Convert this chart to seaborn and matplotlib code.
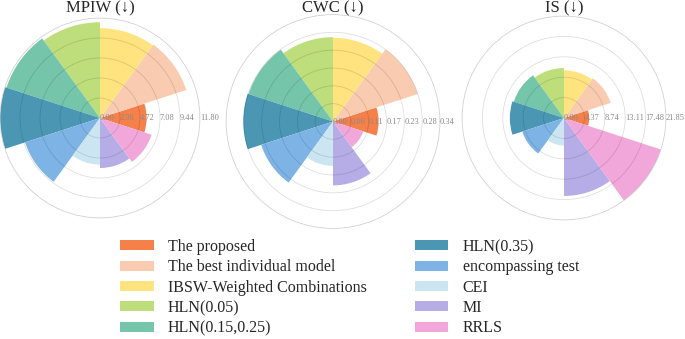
import numpy as np
import pandas as pd
import seaborn as sns
import matplotlib.pyplot as plt
from matplotlib.patches import Patch

# methods in the order they go round the rose (anticlockwise from east)
methods = ['The proposed', 'The best individual model', 'IBSW-Weighted Combinations',
           'HLN(0.05)', 'HLN(0.15,0.25)', 'HLN(0.35)', 'encompassing test', 'CEI', 'MI', 'RRLS']
colors = ['#F5804A', '#F9CBB0', '#FFE37F', '#BEDD7B', '#74C5AA',
          '#4B97B3', '#7EB3E5', '#CCE6F1', '#B6ADE7', '#F1A7D9']

mpiw = [5.5, 10.7, 10.6, 11.3, 11.6, 11.8, 9.3, 5.5, 5.9, 6.4]
cwc = [0.145, 0.283, 0.266, 0.268, 0.282, 0.285, 0.240, 0.141, 0.203, 0.101]
is_score = [5.4, 10.5, 10.2, 10.7, 11.3, 11.6, 9.4, 5.9, 16.7, 21.85]

# title, values, outer tick, number of ring intervals
panels = [('MPIW (↓)', mpiw, 11.80, 5),
          ('CWC (↓)', cwc, 0.34, 6),
          ('IS (↓)', is_score, 21.85, 5)]

sns.set_theme(style='white')
serif = ['Liberation Serif', 'DejaVu Serif']
plt.rcParams['font.family'] = serif

W, H = 685, 339
fig = plt.figure(figsize=(W / 100, H / 100), dpi=100)

# centre x, centre y (pixels from top), radius in pixels
boxes = [(100, 118, 100), (333, 121.5, 107), (564, 118, 102)]

theta = np.arange(len(methods)) * 2 * np.pi / len(methods)

for (title, vals, rmax, n), (cx, cy, r) in zip(panels, boxes):
    ax = fig.add_axes([(cx - r) / W, (H - cy - r) / H, 2 * r / W, 2 * r / H], projection='polar')
    df = pd.DataFrame({'theta': theta, 'value': vals, 'method': methods})
    sns.barplot(data=df, x='theta', y='value', hue='method', hue_order=methods,
                palette=colors, native_scale=True, width=1.0, dodge=False,
                saturation=1, errorbar=None, legend=False, linewidth=0, ax=ax)
    ax.set_theta_zero_location('E')
    ax.set_xlim(0, 2 * np.pi)
    ax.set_ylim(0, rmax)
    ax.set_xlabel('')
    ax.set_ylabel('')
    ax.set_xticks([])
    ticks = np.linspace(0, rmax, n + 1)
    ax.set_yticks(ticks)
    ax.set_yticklabels([])
    ax.set_axisbelow(False)
    ax.yaxis.grid(True, color='black', alpha=0.13, linewidth=0.6)
    ax.spines['polar'].set_color('#e2e2e2')
    ax.spines['polar'].set_linewidth(0.6)
    for t in ticks:
        ax.text(0, t, f'{t:.2f}', ha='left', va='center', fontsize=6.0,
                color='#8a8a8a', family=serif, zorder=5)
    fig.text(cx / W, 1 - 8 / H, title, ha='center', va='center', fontsize=12, family=serif)

handles = [Patch(facecolor=c, edgecolor='none') for c in colors]
fig.legend(handles, methods, ncol=2, loc='upper left', bbox_to_anchor=(120 / W, 1 - 239 / H),
           frameon=False, fontsize=11.5, borderpad=0, borderaxespad=0,
           handlelength=2.1, handleheight=0.6, handletextpad=0.9,
           columnspacing=3.0, labelspacing=0.27)

fig.savefig('out.png', dpi=100)
